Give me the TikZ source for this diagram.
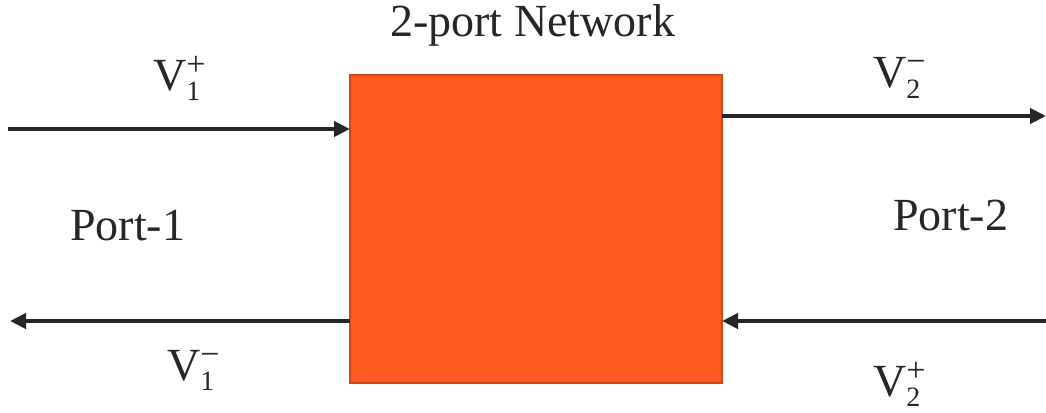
\documentclass[tikz,border=0pt]{standalone}
\usepackage{fontspec}
\IfFontExistsTF{LiberationSerif-Regular.ttf}{%
  \setmainfont{LiberationSerif}[Extension=.ttf,UprightFont=*-Regular,BoldFont=*-Bold,ItalicFont=*-Italic,BoldItalicFont=*-BoldItalic]}{%
  \setmainfont{Liberation Serif}}
\usetikzlibrary{arrows.meta}
\definecolor{boxfill}{HTML}{FF5A1F}
\definecolor{boxline}{HTML}{C94A16}
\definecolor{linegray}{HTML}{262626}
\definecolor{textgray}{HTML}{262626}
\newcommand{\vlab}[2]{V\makebox[0pt][l]{\raisebox{15pt}{\fontsize{34}{34}\selectfont #2}}\raisebox{-10pt}{\fontsize{28}{28}\selectfont #1}}
\tikzset{
  wire/.style={draw=linegray, line width=4pt, -{Triangle[length=16pt,width=15pt]}},
  lbl/.style={text=textgray, font=\fontsize{46}{54}\selectfont, inner sep=0pt, anchor=base west},
  netbox/.style={draw=boxline, fill=boxfill, line width=1.5pt}
}
\begin{document}
\begin{tikzpicture}[x=1pt,y=-1pt]
\useasboundingbox (0,0) rectangle (1046,412);
\path[netbox] (350,75) rectangle (722,383);
\coordinate (boxTL) at (350,129);
\coordinate (boxTR) at (722,116);
\coordinate (boxBL) at (350,321);
\coordinate (boxBR) at (722,321);
\coordinate (inL) at (8,129);
\coordinate (outR) at (1046,116);
\coordinate (outL) at (10,321);
\coordinate (inR) at (1046,321);
\draw[wire] (inL) -- (boxTL);
\draw[wire] (boxTR) -- (outR);
\draw[wire] (boxBL) -- (outL);
\draw[wire] (inR) -- (boxBR);
\node[lbl] (title) at (390,37) {2-port Network};
\node[lbl] (p1) at (70,240) {Port-1};
\node[lbl] (p2) at (893,230) {Port-2};
\node[lbl] (v1p) at (153,90) {\vlab{1}{+}};
\node[lbl] (v2m) at (873,88) {\vlab{2}{−}};
\node[lbl] (v1m) at (167,380) {\vlab{1}{−}};
\node[lbl] (v2p) at (873,396) {\vlab{2}{+}};
\end{tikzpicture}
\end{document}
